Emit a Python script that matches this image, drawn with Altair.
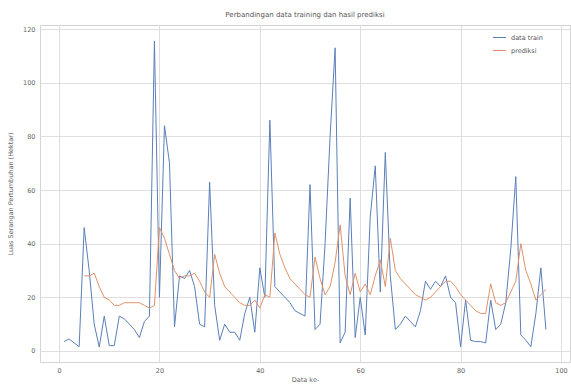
import altair as alt
import pandas as pd

# ---- data ----
train_x = list(range(1, 98))
train_y = [3.5, 4.5, 3, 1.6, 46, 30, 10, 1.5, 13, 2,
           2, 13, 12, 10, 8, 5, 11, 13, 115.5, 20,
           84, 70, 9, 28, 27, 30, 24, 10, 9, 63,
           17, 4, 10, 7, 7, 4, 14, 20, 7, 31,
           20, 86, 24, 22, 20, 18, 15, 14, 13, 62,
           8, 10, 40, 80, 113, 3, 7, 57, 5, 20,
           6, 50, 69, 22, 74, 28, 8, 10, 13, 11,
           9, 15, 26, 23, 26, 24, 28, 20, 18, 1.6,
           19, 4, 3.5, 3.5, 3, 19, 8, 10, 18, 38,
           65, 6, 4, 1.6, 14, 31, 8]

pred_x = list(range(5, 98))
pred_y = [28, 28, 29, 24, 20, 19, 17, 17, 18, 18,
          18, 18, 17, 16, 17, 46, 42, 36, 30, 27,
          28, 28, 29, 26, 22, 20, 36, 29, 24, 22,
          20, 18, 17, 17, 19, 16, 21, 20, 44, 36,
          31, 27, 25, 23, 21, 20, 35, 27, 21, 24,
          33, 47, 28, 21, 29, 22, 25, 21, 28, 34,
          24, 42, 30, 27, 25, 23, 21, 20, 19, 20,
          22, 24, 26, 26, 24, 21, 19, 17, 15, 14,
          14, 25, 18, 17, 18, 22, 26, 40, 30, 25,
          19, 21, 23]

series_names = ["data train", "prediksi"]
series_colors = ["#5b7fb8", "#e0916a"]
x_ticks = [0, 20, 40, 60, 80, 100]
y_ticks = [0, 20, 40, 60, 80, 100, 120]

df = pd.concat([
    pd.DataFrame({"x": train_x, "y": train_y, "series": series_names[0], "order": 0}),
    pd.DataFrame({"x": pred_x, "y": pred_y, "series": series_names[1], "order": 1}),
])

FONT = "DejaVu Sans"

chart = alt.Chart(df).mark_line(strokeWidth=1.0).encode(
    x=alt.X("x:Q",
            scale=alt.Scale(domain=[-3.8, 101.8], nice=False, zero=False),
            axis=alt.Axis(values=x_ticks, title="Data ke-", format="d")),
    y=alt.Y("y:Q",
            scale=alt.Scale(domain=[-4.1, 121.5], nice=False, zero=False),
            axis=alt.Axis(values=y_ticks, title="Luas Serangan Pertumbuhan (Hektar)", format="d")),
    color=alt.Color("series:N",
                    scale=alt.Scale(domain=series_names, range=series_colors),
                    legend=alt.Legend(title=None, orient="none", legendX=452, legendY=5,
                                      symbolType="stroke", symbolSize=170,
                                      symbolStrokeWidth=1.0, labelFontSize=6.5,
                                      labelFont=FONT, labelColor="#555",
                                      rowPadding=2)),
    detail="series:N",
    order="order:Q",
).properties(
    width=530,
    height=337,
    background="white",
    title=alt.TitleParams("Perbandingan data training dan hasil prediksi",
                          fontSize=7, font=FONT, fontWeight="normal",
                          color="#555", anchor="middle", offset=7),
    padding={"left": 40, "top": 25, "right": 1, "bottom": 26},
    autosize=alt.AutoSizeParams(type="none"),
).configure_view(
    stroke="#d4d4d4", strokeWidth=1
).configure_axis(
    grid=True, gridColor="#dedede", gridWidth=1,
    domain=False, ticks=False,
    labelFont=FONT, labelFontSize=6.5, labelColor="#666", labelPadding=5,
    titleFont=FONT, titleFontSize=6.5, titleColor="#666", titleFontWeight="normal",
).configure_axisX(
    titlePadding=3
).configure_axisY(
    titlePadding=9
)

chart.save("out.html", embed_options={"renderer": "svg", "actions": False})
